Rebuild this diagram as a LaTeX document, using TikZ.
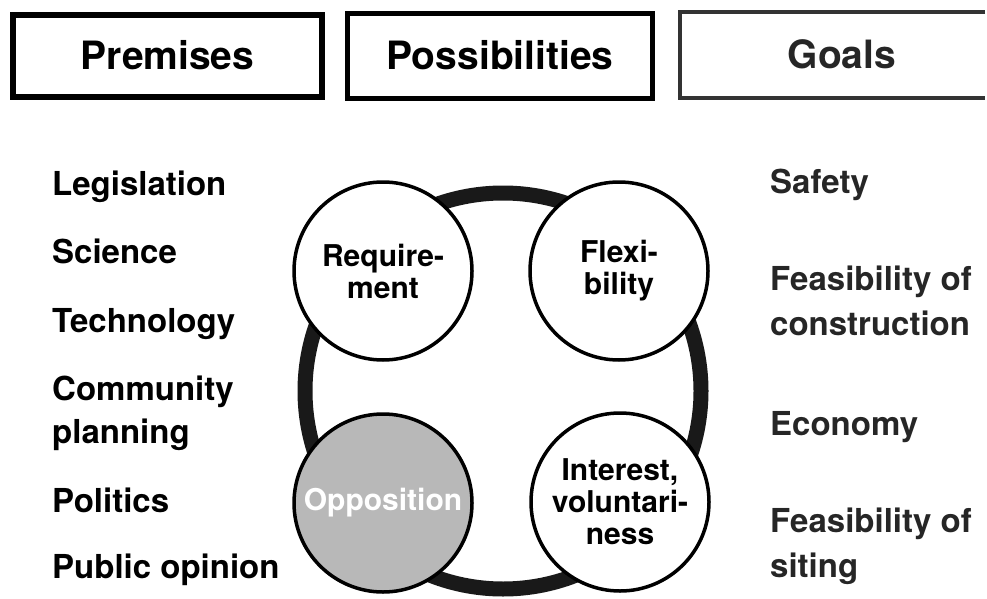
\documentclass[tikz,border=0pt]{standalone}
\usepackage{fontspec}
\setmainfont{TeX Gyre Heros}
\usepackage{tikz}
\usetikzlibrary{calc}

\begin{document}
\begin{tikzpicture}[x=1pt, y=-1pt,
  hdrbox/.style={draw, line width=#1, minimum width=309pt, minimum height=82pt, inner sep=0pt,
    font=\fontsize{39}{39}\selectfont\bfseries, text height=28pt, text depth=0pt},
  item/.style={anchor=base west, inner sep=0pt, font=\fontsize{33}{33}\selectfont\bfseries},
  goal/.style={item, text=black!85},
  poss/.style={circle, draw, line width=3.5pt, fill=white, minimum size=178pt, inner sep=0pt,
    align=center, font=\fontsize{30}{32}\selectfont\bfseries},
  ringline/.style={line width=15pt, draw=black!90}]

  \useasboundingbox (0,0) rectangle (987,599);

  \coordinate (ring) at (503,391);
  \coordinate (R) at (383,271);
  \coordinate (F) at (619,271);
  \coordinate (O) at (383,503);
  \coordinate (I) at (620,502);

  % headings
  \node[hdrbox=6pt, minimum width=309pt] (premises) at (167.5,56) {Premises};
  \node[hdrbox=5pt, minimum width=305pt, minimum height=85pt] (possibilities) at (500,56) {Possibilities};
  \node[hdrbox=4pt, draw=none, minimum width=320pt, text=black!85] (goals) at (842,55) {Goals};
  \draw[line width=4pt, draw=black!80] (goals.north west) ++(305,0) -- (goals.north west)
    -- (goals.south west) -- ++(305,0);

  % premises
  \node[item] (legislation) at (52,195) {Legislation};
  \node[item] (science) at (52,263) {Science};
  \node[item] (technology) at (52,332) {Technology};
  \node[item] (community) at (52,400) {Community};
  \node[item] (planning) at (52,443) {planning};
  \node[item] (politics) at (52,512) {Politics};
  \node[item] (opinion) at (52,578) {Public opinion};

  % goals
  \node[goal] (safety) at (770,193) {Safety};
  \node[goal] (constr1) at (770,290) {Feasibility of};
  \node[goal] (constr2) at (770,335) {construction};
  \node[goal] (economy) at (770,435) {Economy};
  \node[goal] (siting1) at (770,532) {Feasibility of};
  \node[goal] (siting2) at (770,577) {siting};

  % possibilities
  \draw[ringline] (ring) circle (198pt);

  \node[poss] (requirement) at (R) {Require-\\ment};
  \node[poss] (flexibility) at (F) {Flexi-\\bility};
  \node[poss, fill=black!28, text=white] (opposition) at (O) {Opposition};
  \node[poss] (interest) at (I) {Interest,\\voluntari-\\ness};

\end{tikzpicture}
\end{document}
